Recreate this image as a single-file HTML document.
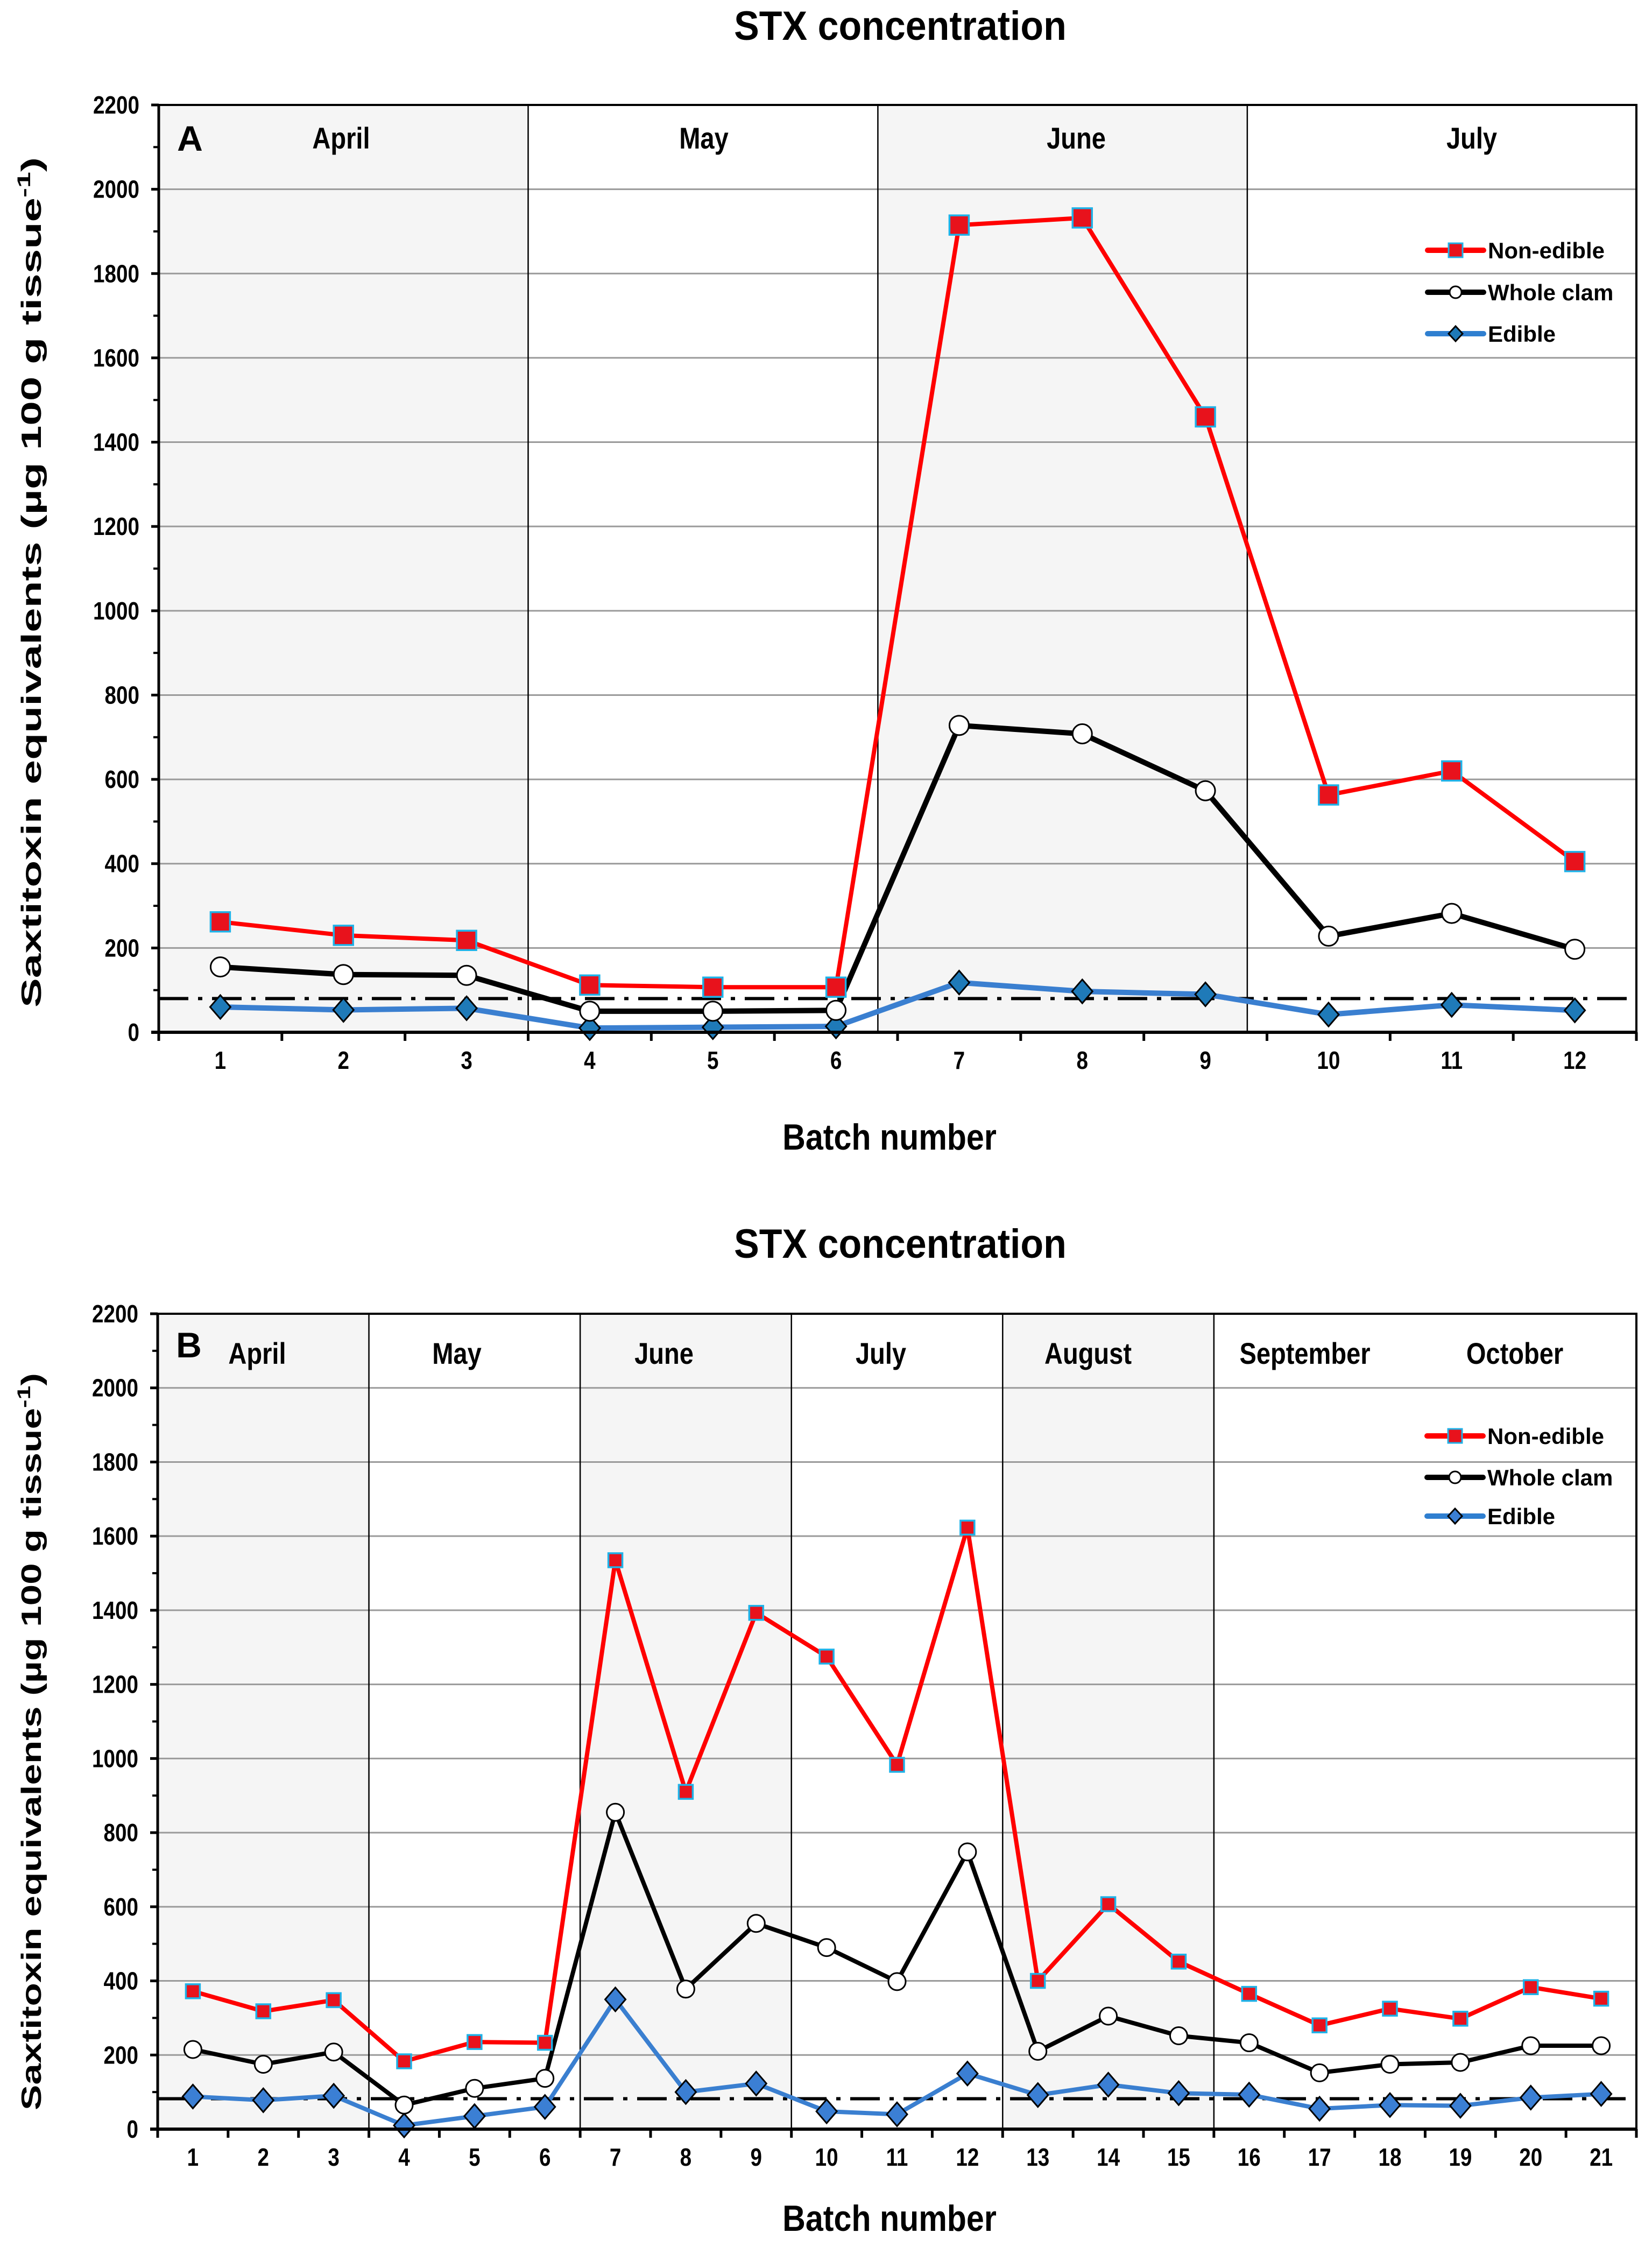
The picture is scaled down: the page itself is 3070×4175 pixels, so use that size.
<!DOCTYPE html>
<html><head><meta charset="utf-8"><title>STX concentration</title>
<style>
html,body{margin:0;padding:0;background:#fff;}
svg{display:block;}
text{font-family:"Liberation Sans Narrow","Liberation Sans",sans-serif;font-weight:bold;fill:#000;}
.wide{font-family:"Liberation Sans",sans-serif;}
</style></head>
<body>
<svg id="fig" xmlns="http://www.w3.org/2000/svg" width="3070" height="4175" viewBox="0 0 3070 4175"></svg>
<script>
// ---------- data ----------
const batchesA = [1,2,3,4,5,6,7,8,9,10,11,12];
const nonEdibleA = [262,230,218,112,107,107,1915,1932,1460,563,620,405];
const wholeClamA = [155,137,135,50,50,52,728,708,573,228,282,197];
const edibleA = [60,53,57,10,12,14,118,97,90,42,65,52];
const monthNamesA = ["April","May","June","July"];
const monthBoundsA = [3,5.84,8.84];

const batchesB = [1,2,3,4,5,6,7,8,9,10,11,12,13,14,15,16,17,18,19,20,21];
const nonEdibleB = [372,318,348,183,235,233,1535,910,1393,1275,983,1623,400,607,452,365,280,325,298,383,352];
const wholeClamB = [215,175,208,65,110,137,855,378,555,490,398,748,210,305,252,233,152,175,180,225,225];
const edibleB = [88,78,90,10,35,60,350,100,123,48,40,150,92,120,97,93,55,65,63,85,95];
const monthNamesB = ["April","May","June","July","August","September","October"];
const monthBoundsB = [3,6,9,12,15];

const yTicks = [0,200,400,600,800,1000,1200,1400,1600,1800,2000,2200];
const regLimitA = 80;
const regLimitB = 82;

// ---------- helpers ----------
const NS = "http://www.w3.org/2000/svg";
const svg = document.getElementById("fig");
const NARROW = 0.84;
function el(tag, attrs, parent){
  const e = document.createElementNS(NS, tag);
  for (const k in attrs) e.setAttribute(k, attrs[k]);
  (parent||svg).appendChild(e);
  return e;
}
function ntext(x, y, size, anchor, parent, sx){
  return el("text", {x:0, y:0, "text-anchor":anchor, "font-size":size, transform:`translate(${x},${y}) scale(${sx||NARROW},1)`}, parent);
}

function drawChart(c){
  const g = el("g", {});
  
  
  const n = c.batches.length;
  const bw = (c.right - c.left) / n;
  const xBatch = b => c.left + (b - 0.5) * bw;
  const xEdge = u => c.left + u * bw;
  const yv = v => c.zero - (v / 2200) * (c.zero - c.top);

  const edges = [0].concat(c.bounds).concat([n]);
  for (let i = 0; i < edges.length - 1; i++) {
    if (c.shaded.indexOf(i) >= 0) {
      const r = el("rect", {x:xEdge(edges[i]), y:c.top, width:xEdge(edges[i+1])-xEdge(edges[i]), height:c.zero-c.top, fill:"#f5f5f5"}, g);
      
      
    }
  }
  yTicks.forEach(t => {
    if (t === 0 || t === 2200) return;
    const l = el("line", {x1:c.left, x2:c.right, y1:yv(t), y2:yv(t), stroke:"#9a9a9a", "stroke-width":3}, g);
    
    
  });
  c.bounds.forEach(u => {
    const l = el("line", {x1:xEdge(u), x2:xEdge(u), y1:c.top, y2:c.zero, stroke:"#000", "stroke-width":2.5}, g);
    
    
  });
  const fr = el("rect", {x:c.left, y:c.top, width:c.right-c.left, height:c.zero-c.top, fill:"none", stroke:"#000", "stroke-width":4}, g);
  
  
  c.months.forEach((m, i) => {
    const t = ntext(c.monthX[i], c.monthY, 56, "middle", g);
    t.textContent = m;
    
    
  });
  const pl = el("text", {x:c.left+58, y:c.letterY, "text-anchor":"middle", "font-size":66, class:"wide"}, g);
  pl.textContent = c.letter;
  
  
  const rl = el("line", {x1:c.left, x2:c.right, y1:yv(c.limit), y2:yv(c.limit), stroke:"#000", "stroke-width":6, "stroke-dasharray":"55,18,8,18"}, g);
  
  

  const series = [
    {name:"edible", vals:c.edible, color:"#3a7fd0", w:c.lw},
    {name:"whole-clam", vals:c.whole, color:"#000", w:c.lw},
    {name:"non-edible", vals:c.nonEdible, color:"#ff0000", w:8}
  ];
  series.forEach(s => {
    const pts = s.vals.map((v, i) => xBatch(c.batches[i]) + "," + yv(v)).join(" ");
    const pl2 = el("polyline", {points:pts, fill:"none", stroke:s.color, "stroke-width":s.w, "stroke-linejoin":"round"}, g);
    
    
  });
  c.edible.forEach((v, i) => {
    const x = xBatch(c.batches[i]), y = yv(v), w = 19, h = 22;
    const d = el("polygon", {points:`${x},${y-h} ${x+w},${y} ${x},${y+h} ${x-w},${y}`, fill:c.diamondFill, stroke:"#000", "stroke-width":3}, g);
    
    
  });
  c.whole.forEach((v, i) => {
    const ci = el("circle", {cx:xBatch(c.batches[i]), cy:yv(v), r:c.cr, fill:"#fff", stroke:"#000", "stroke-width":3}, g);
    
    
  });
  c.nonEdible.forEach((v, i) => {
    const s = c.sq;
    const r = el("rect", {x:xBatch(c.batches[i])-s/2, y:yv(v)-s/2, width:s, height:s, fill:"#e8121c", stroke:"#1eb2e8", "stroke-width":3.5}, g);
    
    
  });

  const ya = el("line", {x1:c.left, x2:c.left, y1:c.top-2, y2:c.zero+14, stroke:"#000", "stroke-width":5}, g);
  
  
  const xa = el("line", {x1:c.left-14, x2:c.right+2, y1:c.zero, y2:c.zero, stroke:"#000", "stroke-width":6}, g);
  
  
  yTicks.forEach(t => {
    const tk = el("line", {x1:c.left-14, x2:c.left, y1:yv(t), y2:yv(t), stroke:"#000", "stroke-width":5}, g);
    
    
    if (t < 2200) {
      const mt = el("line", {x1:c.left-10, x2:c.left, y1:yv(t+100), y2:yv(t+100), stroke:"#000", "stroke-width":4}, g);
      
      
    }
    const lb = ntext(c.left-36, yv(t)+16, 46, "end", g);
    lb.textContent = t;
    
    
  });
  for (let u = 0; u <= n; u++) {
    const tk = el("line", {x1:xEdge(u), x2:xEdge(u), y1:c.zero, y2:c.zero+16, stroke:"#000", "stroke-width":5}, g);
    
    
  }
  c.batches.forEach(b => {
    const lb = ntext(xBatch(b), c.zero+68, 46, "middle", g);
    lb.textContent = b;
    
    
  });

  const tt = ntext(1673, c.titleY, 76, "middle", g, 0.92);
  tt.textContent = "STX concentration";
  
  
  const xt = ntext(1653, c.xTitleY, 68, "middle", g, 0.87);
  xt.textContent = "Batch number";
  
  
  const yt = el("text", {x:0, y:0, "text-anchor":"middle", "font-size":52, class:"wide", textLength:c.yLabLen, lengthAdjust:"spacingAndGlyphs", transform:`translate(76,${c.yLabY}) rotate(-90)`}, g);
  
  
  yt.appendChild(document.createTextNode("Saxtitoxin equivalents (µg 100 g tissue"));
  const sup = el("tspan", {"font-size":34, dy:-20}, yt);
  sup.textContent = "-1";
  const cl = el("tspan", {dy:20}, yt);
  cl.textContent = ")";

  const leg = [
    {label:"Non-edible", color:"#ff0000", type:"sq"},
    {label:"Whole clam", color:"#000", type:"ci"},
    {label:"Edible", color:"#2f7fd0", type:"di"}
  ];
  leg.forEach((L, i) => {
    const y = c.legY[i], x1 = c.legX, x2 = c.legX + 104, mx = (x1 + x2) / 2;
    const lg = el("g", {}, g);
    
    
    el("line", {x1:x1, x2:x2, y1:y, y2:y, stroke:L.color, "stroke-width":10, "stroke-linecap":"round"}, lg);
    if (L.type === "sq") el("rect", {x:mx-13, y:y-13, width:26, height:26, fill:"#e8121c", stroke:"#1eb2e8", "stroke-width":3}, lg);
    if (L.type === "ci") el("circle", {cx:mx, cy:y, r:11, fill:"#fff", stroke:"#000", "stroke-width":3}, lg);
    if (L.type === "di") el("polygon", {points:`${mx},${y-14} ${mx+13},${y} ${mx},${y+14} ${mx-13},${y}`, fill:c.diamondFill, stroke:"#000", "stroke-width":3}, lg);
    const tx = el("text", {x:x2+8, y:y+15, "font-size":42, class:"wide"}, lg);
    tx.textContent = L.label;
  });
}

drawChart({
  id:"panel-a", letter:"A", batches:batchesA, nonEdible:nonEdibleA, whole:wholeClamA, edible:edibleA,
  months:monthNamesA, bounds:monthBoundsA, shaded:[0,2], limit:regLimitA,
  left:295, right:3041, top:195, zero:1918,
  monthX:[634,1308,2000,2735], monthY:276, letterY:280,
  titleY:74, xTitleY:2136, yLabY:1082, yLabLen:1580,
  legX:2653, legY:[465,543,620], sq:36, cr:18, lw:10, diamondFill:"#1f7ab8"
});
drawChart({
  id:"panel-b", letter:"B", batches:batchesB, nonEdible:nonEdibleB, whole:wholeClamB, edible:edibleB,
  months:monthNamesB, bounds:monthBoundsB, shaded:[0,2,4], limit:regLimitB,
  left:293, right:3041, top:2441, zero:3956,
  monthX:[478,849,1234,1637,2022,2425,2815], monthY:2534, letterY:2522,
  titleY:2337, xTitleY:4145, yLabY:3236, yLabLen:1370,
  legX:2652, legY:[2668,2745,2817], sq:26, cr:16, lw:8, diamondFill:"#3b7fd4"
});
</script>
</body></html>
